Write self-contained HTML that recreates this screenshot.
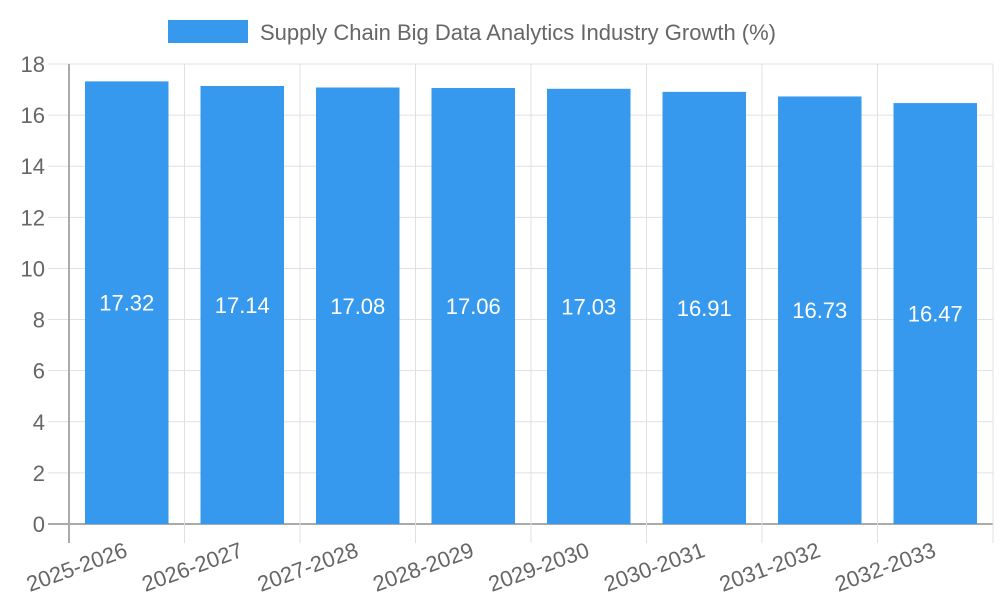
<!DOCTYPE html>
<html><head><meta charset="utf-8"><style>
body{margin:0;background:#fff;}
svg{display:block;font-family:"Liberation Sans",sans-serif;}
</style></head><body>
<svg id="chart" width="1000" height="600">
<rect x="168" y="20" width="80" height="23" fill="#3799ee"/>
<text x="260" y="40" font-size="22" fill="#666">Supply Chain Big Data Analytics Industry Growth (%)</text>
<g id="grid"></g><g id="bars"></g><g id="labels"></g>
</svg>
<script>
const categories=["2025-2026","2026-2027","2027-2028","2028-2029","2029-2030","2030-2031","2031-2032","2032-2033"];
const values=[17.32,17.14,17.08,17.06,17.03,16.91,16.73,16.47];
const yTicks=[0,2,4,6,8,10,12,14,16,18];
const X0=69,X1=993,Y0=524,Y1=64,YMAX=18;
const NS="http://www.w3.org/2000/svg";
const bw=(X1-X0)/categories.length;
const y=v=>Y0-(v/YMAX)*(Y0-Y1);
const x=i=>X0+i*bw;
function mk(t,a,p){const e=document.createElementNS(NS,t);for(const k in a)e.setAttribute(k,a[k]);p.appendChild(e);return e;}
const g=document.getElementById('grid'),b=document.getElementById('bars'),l=document.getElementById('labels');
yTicks.forEach(t=>{
 const ln=mk('line',{x1:48,x2:X1,y1:y(t),y2:y(t),stroke:t===0?'#aaa':'#e0e0e0','stroke-width':t===0?2:1},g);
 
 
 const tx=mk('text',{x:45,y:y(t)+8,'text-anchor':'end','font-size':22,fill:'#666'},l);
 tx.textContent=t;
 
 
});
for(let i=0;i<=categories.length;i++){
 const ln=mk('line',{x1:x(i),x2:x(i),y1:Y1,y2:543,stroke:i===0?'#aaa':'#e0e0e0','stroke-width':i===0?2:1},g);
 
 
}
categories.forEach((c,i)=>{
 const v=values[i];
 const r=mk('rect',{x:x(i)+16,y:y(v),width:bw-32,height:Y0-y(v),fill:'#3799ee'},b);
 
 
 const vt=mk('text',{x:x(i)+bw/2,y:(y(v)+Y0)/2+8,'text-anchor':'middle','font-size':22,fill:'#fff'},l);
 vt.textContent=v.toFixed(2);
 
 
 const cx=x(i)+bw/2+2,cy=556;
 const ct=mk('text',{x:cx,y:cy,'text-anchor':'end','font-size':22,fill:'#666',transform:`rotate(-20 ${cx} ${cy})`},l);
 ct.textContent=c;
 
 
});
</script>
</body></html>
